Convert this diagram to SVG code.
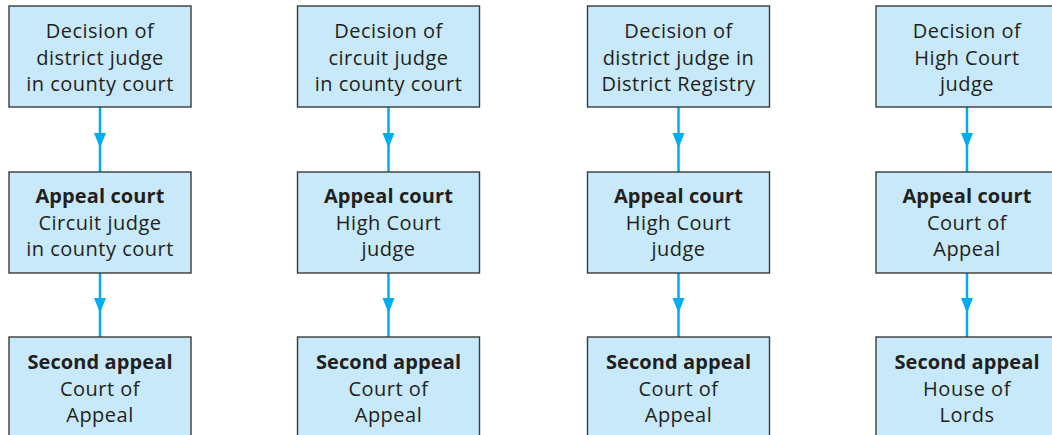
<svg xmlns="http://www.w3.org/2000/svg" width="1052" height="435" viewBox="0 0 1052 435">
<defs>
<style>
.box{fill:#c7e9f9;stroke:#3a3a3a;stroke-width:1.4}
.t{font-family:"Open Sans","Noto Sans",sans-serif;font-size:20px;letter-spacing:0.5px;fill:#231f20;text-anchor:middle}
.b{font-weight:bold;letter-spacing:0.1px}
.c{stroke:#00aeef;stroke-width:2.5;fill:none}
.h{fill:#00aeef}
</style>
</defs>
<rect width="1052" height="435" fill="#ffffff"/>
<g id="connectors">
<line class="c" x1="100" y1="107" x2="100" y2="172"/><polygon class="h" points="94,133 106,133 100,148"/>
<line class="c" x1="100" y1="273" x2="100" y2="337"/><polygon class="h" points="94,298 106,298 100,313"/>
<line class="c" x1="388.5" y1="107" x2="388.5" y2="172"/><polygon class="h" points="382.5,133 394.5,133 388.5,148"/>
<line class="c" x1="388.5" y1="273" x2="388.5" y2="337"/><polygon class="h" points="382.5,298 394.5,298 388.5,313"/>
<line class="c" x1="678.5" y1="107" x2="678.5" y2="172"/><polygon class="h" points="672.5,133 684.5,133 678.5,148"/>
<line class="c" x1="678.5" y1="273" x2="678.5" y2="337"/><polygon class="h" points="672.5,298 684.5,298 678.5,313"/>
<line class="c" x1="967" y1="107" x2="967" y2="172"/><polygon class="h" points="961,133 973,133 967,148"/>
<line class="c" x1="967" y1="273" x2="967" y2="337"/><polygon class="h" points="961,298 973,298 967,313"/>
</g>
<g id="n1a"><rect class="box" x="9" y="6" width="182" height="101"/><text class="t" x="100" y="38">Decision of</text><text class="t" x="100" y="64.5">district judge</text><text class="t" x="100" y="91">in county court</text></g>
<g id="n1b"><rect class="box" x="9" y="172" width="182" height="101"/><text class="t b" x="100" y="203">Appeal court</text><text class="t" x="100" y="229.5">Circuit judge</text><text class="t" x="100" y="256">in county court</text></g>
<g id="n1c"><rect class="box" x="9" y="337" width="182" height="110"/><text class="t b" x="100" y="369">Second appeal</text><text class="t" x="100" y="395.5">Court of</text><text class="t" x="100" y="422">Appeal</text></g>
<g id="n2a"><rect class="box" x="297.5" y="6" width="182" height="101"/><text class="t" x="388.5" y="38">Decision of</text><text class="t" x="388.5" y="64.5">circuit judge</text><text class="t" x="388.5" y="91">in county court</text></g>
<g id="n2b"><rect class="box" x="297.5" y="172" width="182" height="101"/><text class="t b" x="388.5" y="203">Appeal court</text><text class="t" x="388.5" y="229.5">High Court</text><text class="t" x="388.5" y="256">judge</text></g>
<g id="n2c"><rect class="box" x="297.5" y="337" width="182" height="110"/><text class="t b" x="388.5" y="369">Second appeal</text><text class="t" x="388.5" y="395.5">Court of</text><text class="t" x="388.5" y="422">Appeal</text></g>
<g id="n3a"><rect class="box" x="587.5" y="6" width="182" height="101"/><text class="t" x="678.5" y="38">Decision of</text><text class="t" x="678.5" y="64.5">district judge in</text><text class="t" x="678.5" y="91">District Registry</text></g>
<g id="n3b"><rect class="box" x="587.5" y="172" width="182" height="101"/><text class="t b" x="678.5" y="203">Appeal court</text><text class="t" x="678.5" y="229.5">High Court</text><text class="t" x="678.5" y="256">judge</text></g>
<g id="n3c"><rect class="box" x="587.5" y="337" width="182" height="110"/><text class="t b" x="678.5" y="369">Second appeal</text><text class="t" x="678.5" y="395.5">Court of</text><text class="t" x="678.5" y="422">Appeal</text></g>
<g id="n4a"><rect class="box" x="876" y="6" width="182" height="101"/><text class="t" x="967" y="38">Decision of</text><text class="t" x="967" y="64.5">High Court</text><text class="t" x="967" y="91">judge</text></g>
<g id="n4b"><rect class="box" x="876" y="172" width="182" height="101"/><text class="t b" x="967" y="203">Appeal court</text><text class="t" x="967" y="229.5">Court of</text><text class="t" x="967" y="256">Appeal</text></g>
<g id="n4c"><rect class="box" x="876" y="337" width="182" height="110"/><text class="t b" x="967" y="369">Second appeal</text><text class="t" x="967" y="395.5">House of</text><text class="t" x="967" y="422">Lords</text></g>
</svg>
